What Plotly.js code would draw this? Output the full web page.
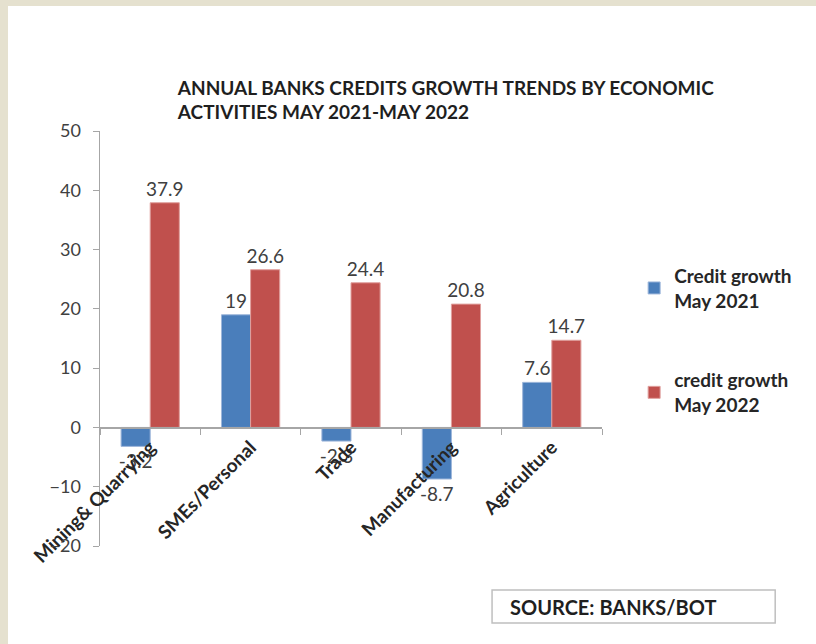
<!DOCTYPE html>
<html>
<head>
<meta charset="utf-8">
<script src="https://cdn.plot.ly/plotly-3.0.1.min.js"></script>
<style>
  html, body { margin: 0; padding: 0; background: #E5E1CF; }
  #wrap { position: absolute; left: 8px; top: 6px; width: 808px; height: 638px; background: #ffffff; }
  #chart { width: 808px; height: 638px; }
</style>
</head>
<body>
<div id="wrap"><div id="chart"></div></div>
<script>
const categories = ["Mining& Quarrying", "SMEs/Personal", "Trade", "Manufacturing", "Agriculture"];
const growth2021 = [-3.2, 19, -2.3, -8.7, 7.6];
const growth2022 = [37.9, 26.6, 24.4, 20.8, 14.7];
const seriesNames = ["Credit growth<br>May 2021", "credit growth<br>May 2022"];
const yTicks = [-20, -10, 0, 10, 20, 30, 40, 50];

const FAM = "Lato, 'Open Sans', sans-serif";
const labelFont = { family: FAM, size: 19, color: "#404040" };

const traces = [
  {
    type: "bar", name: seriesNames[0], legendgroup: "a",
    x: categories, y: growth2021,
    text: growth2021.map(String), textposition: "outside", constraintext: "none",
    textfont: labelFont, cliponaxis: false,
    marker: { color: "#4A7EBB", line: { color: "#9DB6DA", width: 1 } },
    hoverinfo: "x+y"
  },
  {
    type: "bar", name: seriesNames[1], legendgroup: "b",
    x: categories, y: growth2022,
    text: growth2022.map(String), textposition: "outside", constraintext: "none",
    textfont: labelFont, cliponaxis: false,
    marker: { color: "#C0504D", line: { color: "#E0A09E", width: 1 } },
    hoverinfo: "x+y"
  }
];

const layout = {
  width: 808, height: 638,
  margin: { l: 92, r: 214, t: 125, b: 98 },
  paper_bgcolor: "#ffffff", plot_bgcolor: "#ffffff",
  font: { family: FAM, color: "#404040" },
  barmode: "group", bargap: 0.42, bargroupgap: 0,
  title: {
    text: "<b>ANNUAL BANKS CREDITS GROWTH TRENDS BY ECONOMIC<br>ACTIVITIES MAY 2021-MAY 2022</b>",
    font: { family: FAM, size: 19, color: "#1F1F1F" },
    xref: "paper", x: 0.155, xanchor: "left",
    yref: "container", y: 0.861, yanchor: "top"
  },
  xaxis: {
    type: "category",
    anchor: "free", position: 20 / 70,
    showline: true, linecolor: "#A6A6A6", linewidth: 1.5,
    ticks: "outside", tickson: "boundaries", ticklen: 6, tickcolor: "#A6A6A6",
    tickangle: -45,
    tickfont: { family: FAM, size: 19, color: "#262626", weight: "bold" },
    showgrid: false, zeroline: false
  },
  yaxis: {
    range: [-20, 50], tickvals: yTicks,
    showline: true, linecolor: "#A6A6A6", linewidth: 1.5,
    ticks: "outside", ticklen: 6, tickcolor: "#A6A6A6",
    ticklabelstandoff: 8,
    tickfont: { family: FAM, size: 18, color: "#404040" },
    showgrid: false, zeroline: false
  },
  showlegend: true,
  legend: {
    x: 1.064, xanchor: "left", y: 0.697, yanchor: "top",
    traceorder: "grouped", tracegroupgap: 52,
    font: { family: FAM, size: 19, color: "#262626", weight: "bold" },
    bgcolor: "rgba(0,0,0,0)"
  },
  shapes: [
    { type: "rect", xref: "paper", yref: "paper",
      x0: 0.781, x1: 1.345, y0: -0.1855, y1: -0.106,
      line: { color: "#BFBFBF", width: 1.5 }, fillcolor: "rgba(0,0,0,0)" }
  ],
  annotations: [
    { xref: "paper", yref: "paper", x: 0.813, xanchor: "left", y: -0.147, yanchor: "middle",
      text: "<b>SOURCE: BANKS/BOT</b>", showarrow: false,
      font: { family: FAM, size: 20, color: "#1F1F1F" } }
  ]
};

Plotly.newPlot("chart", traces, layout, { displayModeBar: false, staticPlot: true });
</script>
</body>
</html>
